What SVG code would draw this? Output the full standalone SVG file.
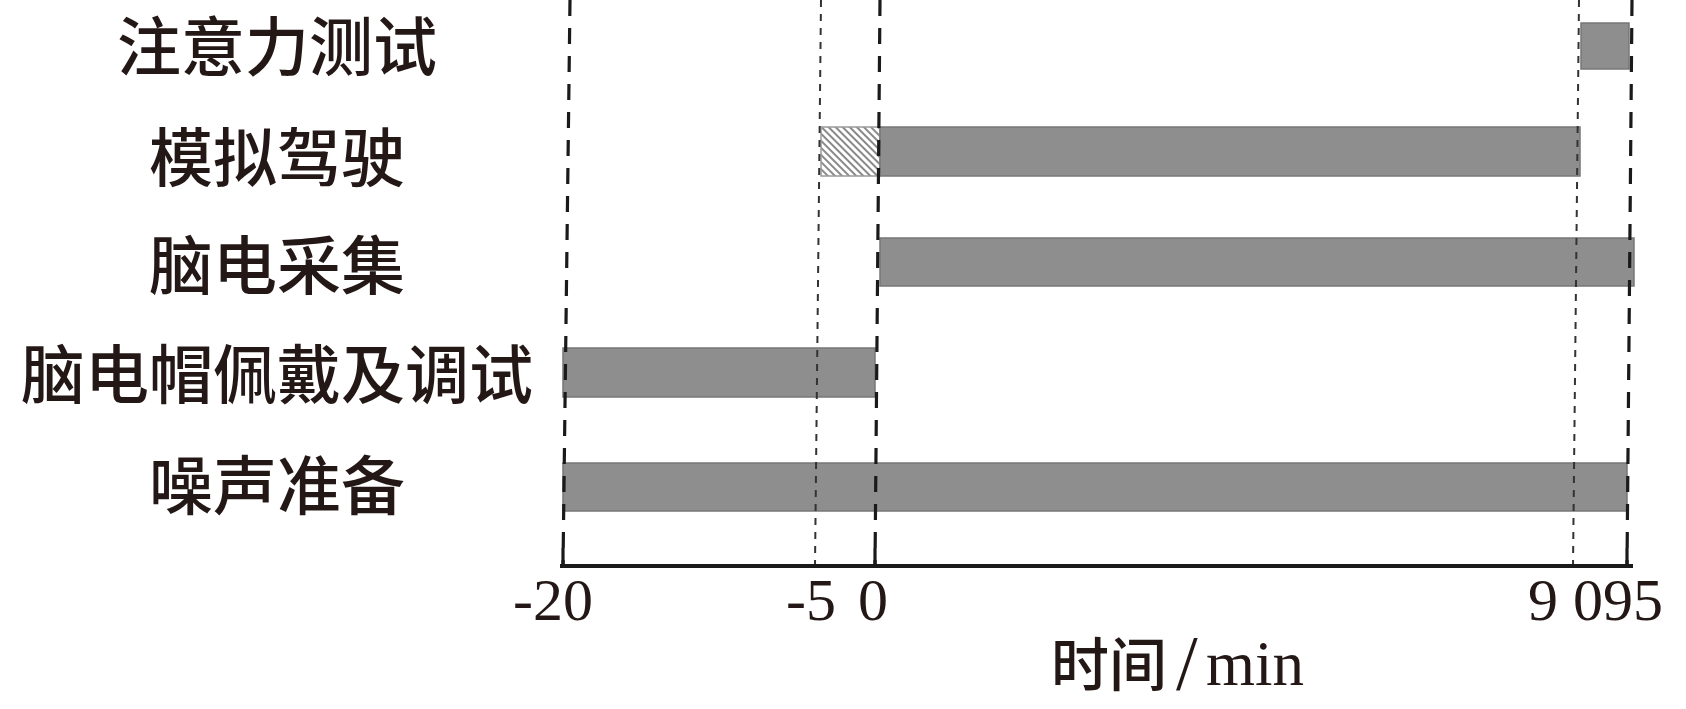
<svg xmlns="http://www.w3.org/2000/svg" width="1686" height="709" viewBox="0 0 1686 709">
<defs>
<pattern id="hatch" width="5" height="5" patternUnits="userSpaceOnUse" patternTransform="rotate(-45)">
<rect width="5" height="5" fill="#ffffff"/>
<line x1="1" y1="0" x2="1" y2="5" stroke="#8a8a8a" stroke-width="2"/>
</pattern>
<style>
.lbl{font-family:"Noto Sans CJK SC","Noto Sans CJK JP",sans-serif;font-size:64px;font-weight:500;fill:#231816;text-anchor:middle}
.num{font-family:"Liberation Serif","Times New Roman",serif;font-size:60px;fill:#231816}
.bar{fill:#8e8e8e;stroke:#777777;stroke-width:1.5}
.hat{fill:url(#hatch);stroke:#9a9a9a;stroke-width:1.5}
.thick{stroke:#1a1a1a;stroke-width:3.2;stroke-dasharray:16 12;fill:none}
.dot{stroke:#333333;stroke-width:2;stroke-dasharray:7 7;fill:none}
.axis{stroke:#1a1a1a;stroke-width:4;fill:none}
.tick{stroke:#1a1a1a;stroke-width:3.2;fill:none}
</style>
</defs>
<rect width="1686" height="709" fill="#ffffff"/>

<g id="row-attention">
<text class="lbl" x="277" y="70">注意力测试</text>
<rect class="bar" x="1581" y="23" width="48" height="46"/>
</g>
<g id="row-driving">
<text class="lbl" x="277" y="181">模拟驾驶</text>
<rect class="hat" x="821" y="127" width="59" height="49"/>
<rect class="bar" x="880" y="127" width="700" height="49"/>
</g>
<g id="row-eeg">
<text class="lbl" x="277" y="289">脑电采集</text>
<rect class="bar" x="880" y="238" width="754" height="48"/>
</g>
<g id="row-cap">
<text class="lbl" x="277" y="398">脑电帽佩戴及调试</text>
<rect class="bar" x="563" y="348" width="312" height="49"/>
</g>
<g id="row-noise">
<text class="lbl" x="277" y="509">噪声准备</text>
<rect class="bar" x="563" y="463" width="1064" height="48"/>
</g>

<g id="connectors">
<line class="thick" x1="570" y1="0" x2="563" y2="566"/>
<line class="dot" x1="821" y1="0" x2="815" y2="566"/>
<line class="thick" x1="880" y1="0" x2="875" y2="566"/>
<line class="dot" x1="1579" y1="0" x2="1573" y2="566"/>
<line class="thick" x1="1632" y1="0" x2="1627" y2="566"/>
<line class="tick" x1="563" y1="548" x2="563" y2="566"/>
<line class="tick" x1="875" y1="548" x2="875" y2="566"/>
<line class="tick" x1="1627" y1="548" x2="1627" y2="566"/>
<line class="axis" x1="560" y1="566" x2="1633" y2="566"/>
</g>

<g id="axis-labels">
<text class="num" x="513" y="620">-20</text>
<text class="num" x="786" y="620">-5</text>
<text class="num" x="858" y="620">0</text>
<text class="num" x="1528" y="620">9 095</text>
<text x="1051" y="686" style="font-family:'Noto Sans CJK SC',sans-serif;font-size:58px;font-weight:500;fill:#231816">时间</text>
<text class="num" x="1176" y="689" style="font-size:78px">/</text>
<text class="num" x="1206" y="685" style="font-size:63px">min</text>
</g>
</svg>
